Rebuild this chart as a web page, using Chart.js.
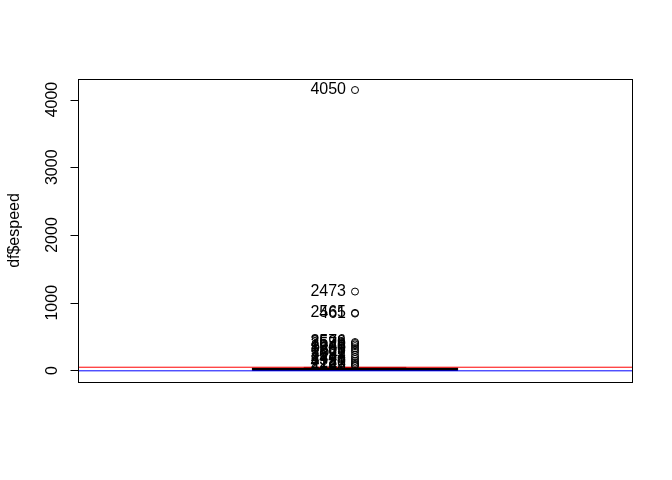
<!DOCTYPE html>
<html>
<head>
<meta charset="utf-8">
<script src="https://cdn.jsdelivr.net/npm/chart.js@4/dist/chart.umd.min.js"></script>
<style>
html,body{margin:0;padding:0;background:#fff;}
#wrap{width:672px;height:480px;position:relative;}
</style>
</head>
<body>
<div id="wrap"><canvas id="c" width="672" height="480"></canvas></div>
<script>
// ---- data ----
const yTicks = [0, 1000, 2000, 3000, 4000];
const yTitle = "df$espeed";
// box statistics: lower whisker, Q1, median, Q3, upper whisker
const boxStats = [0, 3, 15, 35, 45];
const outlierValues = [4140, 1165, 850, 840, 420, 405, 385, 360, 330, 305, 275, 235, 200, 170, 140, 115, 95, 80, 65];
const outlierLabels = ['4050','2473','2565','461','2576','3598','2579','1946','3650','1205','2611','3097','2188','1443','3321','4180','2215','1127','2743'];
const redLine = 48;
const blueLine = -5;
const xRange = [0.46, 1.54];

const FONT = '16px "Liberation Sans", Arial, Helvetica, sans-serif';

const rPlot = {
  id: 'rPlot',
  beforeDatasetsDraw(chart) {
    const ctx = chart.ctx, xs = chart.scales.x, ys = chart.scales.y;
    ctx.save();
    const cx = xs.getPixelForValue(1);
    const halfW = xs.getPixelForValue(1.2) - cx;
    const staple = halfW / 2;
    const [wl, q1, med, q3, wh] = boxStats.map(v => ys.getPixelForValue(v));
    ctx.strokeStyle = '#000';
    ctx.lineWidth = 1;
    ctx.setLineDash([4, 4]);
    ctx.beginPath();
    ctx.moveTo(cx, q3); ctx.lineTo(cx, wh);
    ctx.moveTo(cx, q1); ctx.lineTo(cx, wl);
    ctx.stroke();
    ctx.setLineDash([]);
    ctx.beginPath();
    ctx.moveTo(cx - staple, wh); ctx.lineTo(cx + staple, wh);
    ctx.moveTo(cx - staple, wl); ctx.lineTo(cx + staple, wl);
    ctx.stroke();
    ctx.strokeRect(cx - halfW, q3, 2 * halfW, q1 - q3);
    ctx.lineWidth = 3;
    ctx.beginPath();
    ctx.moveTo(cx - halfW, med); ctx.lineTo(cx + halfW, med);
    ctx.stroke();
    ctx.restore();
  },
  afterDraw(chart) {
    const ctx = chart.ctx, xs = chart.scales.x, ys = chart.scales.y;
    const a = chart.chartArea;
    ctx.save();
    ctx.font = FONT;
    ctx.fillStyle = '#000';
    ctx.textAlign = 'right';
    ctx.textBaseline = 'middle';
    const px = xs.getPixelForValue(1);
    outlierValues.forEach((v, i) => {
      ctx.fillText(outlierLabels[i], px - 9, ys.getPixelForValue(v));
    });
    // frame
    ctx.strokeStyle = '#000';
    ctx.lineWidth = 1;
    ctx.strokeRect(a.left + 0.5, a.top + 0.5, a.right - a.left, a.bottom - a.top);
    // y axis
    const axX = a.left + 0.5;
    ctx.beginPath();
    ctx.moveTo(axX, ys.getPixelForValue(yTicks[0]));
    ctx.lineTo(axX, ys.getPixelForValue(yTicks[yTicks.length - 1]));
    yTicks.forEach(t => {
      const y = Math.round(ys.getPixelForValue(t)) + 0.5;
      ctx.moveTo(axX, y); ctx.lineTo(axX - 8, y);
    });
    ctx.stroke();
    ctx.textAlign = 'center';
    ctx.textBaseline = 'alphabetic';
    yTicks.forEach(t => {
      const y = ys.getPixelForValue(t);
      ctx.save();
      ctx.translate(57, y);
      ctx.rotate(-Math.PI / 2);
      ctx.fillText(String(t), 0, 0);
      ctx.restore();
    });
    ctx.save();
    ctx.translate(19, (a.top + a.bottom) / 2);
    ctx.rotate(-Math.PI / 2);
    ctx.fillText(yTitle, 0, 0);
    ctx.restore();
    ctx.restore();
  }
};

new Chart(document.getElementById('c'), {
  type: 'scatter',
  data: {
    datasets: [{
      data: outlierValues.map(v => ({ x: 1, y: v })),
      pointStyle: 'circle',
      pointRadius: 3.5,
      pointBackgroundColor: 'rgba(0,0,0,0)',
      pointBorderColor: '#000',
      pointBorderWidth: 1,
      showLine: false
    }, {
      data: xRange.map(x => ({ x: x, y: redLine })),
      showLine: true,
      borderColor: '#ff0000',
      backgroundColor: '#ff0000',
      borderWidth: 1,
      pointRadius: 0,
      fill: false
    }, {
      data: xRange.map(x => ({ x: x, y: blueLine })),
      showLine: true,
      borderColor: '#0000ff',
      backgroundColor: '#0000ff',
      borderWidth: 1,
      pointRadius: 0,
      fill: false
    }]
  },
  options: {
    responsive: false,
    animation: false,
    events: [],
    layout: { padding: { left: 78, top: 79, right: 40, bottom: 98 } },
    plugins: { legend: { display: false }, tooltip: { enabled: false } },
    scales: {
      x: { type: 'linear', display: false, min: xRange[0], max: xRange[1] },
      y: { type: 'linear', display: false, min: -170, max: 4303 }
    }
  },
  plugins: [rPlot]
});
</script>
</body>
</html>
